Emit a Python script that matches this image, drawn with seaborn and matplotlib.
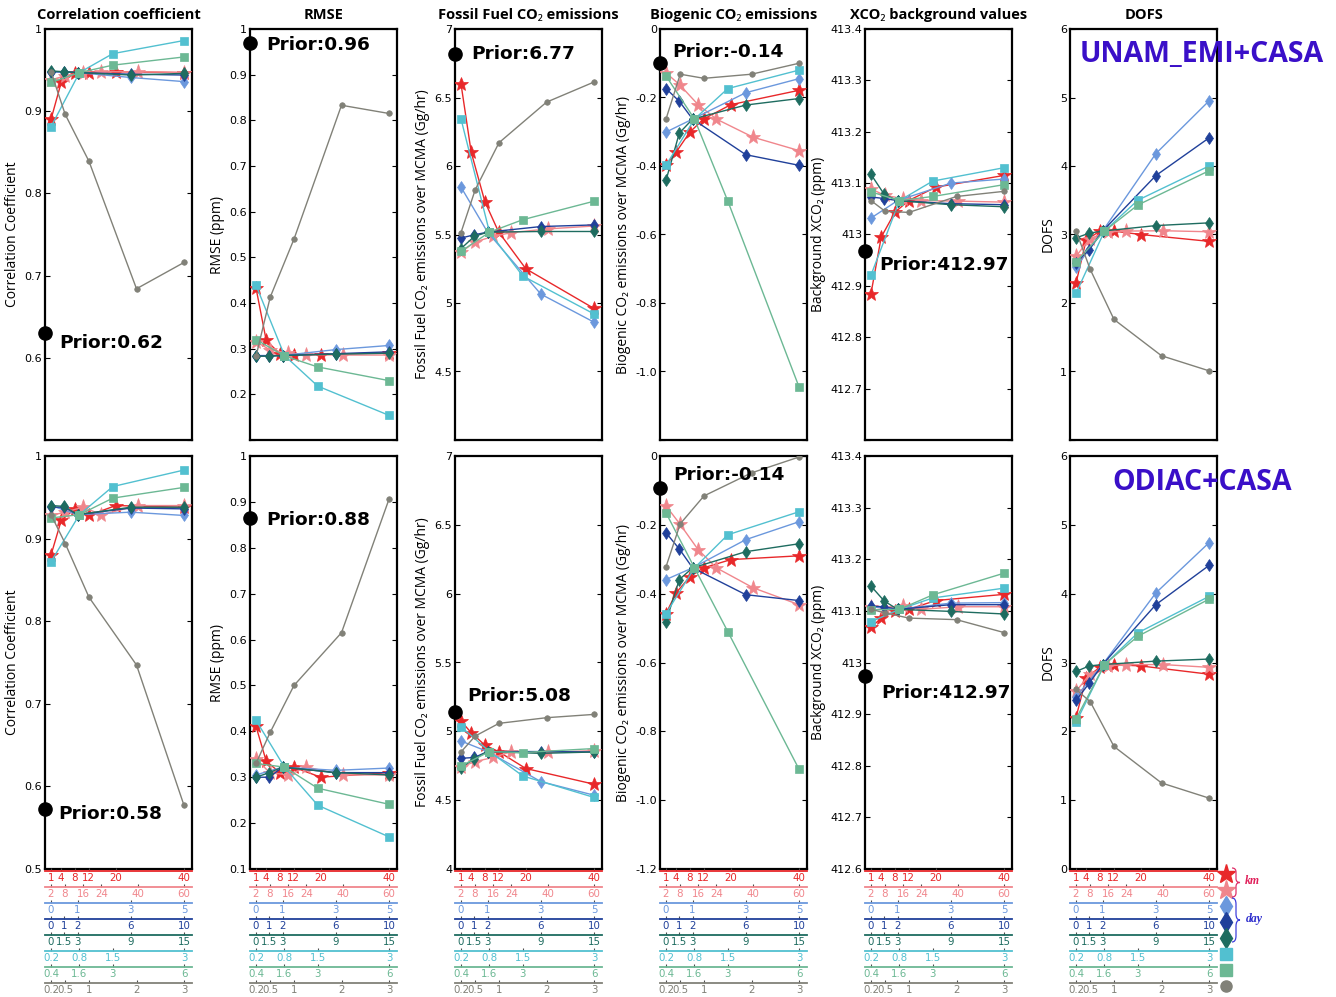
import matplotlib
matplotlib.use("Agg")
import matplotlib.pyplot as plt
import matplotlib.transforms as mtrans
from matplotlib.path import Path
from matplotlib.patches import PathPatch
import numpy as np
import pandas as pd
import seaborn as sns

sns.set_theme(style="white")
plt.rcParams["font.family"] = ["DejaVu Sans"]
for k in ["text.color", "axes.labelcolor", "xtick.color", "ytick.color"]:
    plt.rcParams[k] = "black"

# ---------------- data ----------------
series_names = ["red", "pink", "lightblue", "darkblue", "darkteal", "cyan", "green", "gray"]
series_colors = ["#e8282a", "#f0868c", "#6b98dd", "#20409a", "#1e6c60", "#52c0d0", "#6cb894", "#818178"]
series_markers = ["*", "*", "d", "d", "d", "s", "s", "o"]
series_msize = [10.5, 11, 6, 6, 6, 5.5, 5.5, 4]

x_red = [1, 4, 8, 12, 20, 40]
x_pink = [2, 8, 16, 24, 40, 60]
x_lightblue = [0, 1, 3, 5]
x_darkblue = [0, 1, 2, 6, 10]
x_darkteal = [0, 1.5, 3, 9, 15]
x_cyan = [0.2, 0.8, 1.5, 3]
x_green = [0.4, 1.6, 3, 6]
x_gray = [0.2, 0.5, 1, 2, 3]

lbl_red = ["1", "4", "8", "12", "20", "40"]
lbl_pink = ["2", "8", "16", "24", "40", "60"]
lbl_lightblue = ["0", "1", "3", "5"]
lbl_darkblue = ["0", "1", "2", "6", "10"]
lbl_darkteal = ["0", "1.5", "3", "9", "15"]
lbl_cyan = ["0.2", "0.8", "1.5", "3"]
lbl_green = ["0.4", "1.6", "3", "6"]
lbl_gray = ["0.2", "0.5", "1", "2", "3"]

series_x = [x_red, x_pink, x_lightblue, x_darkblue, x_darkteal, x_cyan, x_green, x_gray]
series_lbl = [lbl_red, lbl_pink, lbl_lightblue, lbl_darkblue, lbl_darkteal, lbl_cyan, lbl_green, lbl_gray]

# rows: UNAM_EMI+CASA (top), ODIAC+CASA (bottom); order of series as series_names
corr_unam = [
    [0.890, 0.935, 0.946, 0.947, 0.948, 0.947],
    [0.938, 0.943, 0.947, 0.948, 0.948, 0.947],
    [0.948, 0.947, 0.941, 0.936],
    [0.948, 0.948, 0.947, 0.945, 0.944],
    [0.949, 0.948, 0.947, 0.944, 0.946],
    [0.881, 0.947, 0.970, 0.986],
    [0.935, 0.947, 0.956, 0.966],
    [0.948, 0.896, 0.839, 0.684, 0.716],
]
rmse_unam = [
    [0.433, 0.318, 0.289, 0.287, 0.287, 0.291],
    [0.315, 0.298, 0.290, 0.287, 0.286, 0.286],
    [0.285, 0.285, 0.298, 0.307],
    [0.284, 0.284, 0.285, 0.289, 0.293],
    [0.283, 0.284, 0.285, 0.288, 0.290],
    [0.439, 0.285, 0.218, 0.154],
    [0.320, 0.284, 0.260, 0.230],
    [0.283, 0.413, 0.540, 0.833, 0.815],
]
ff_unam = [
    [6.60, 6.10, 5.74, 5.52, 5.25, 4.96],
    [5.37, 5.445, 5.486, 5.514, 5.541, 5.562],
    [5.846, 5.517, 5.065, 4.86],
    [5.474, 5.498, 5.517, 5.558, 5.570],
    [5.397, 5.486, 5.517, 5.522, 5.522],
    [6.344, 5.517, 5.197, 4.92],
    [5.377, 5.517, 5.608, 5.743],
    [5.514, 5.827, 6.170, 6.466, 6.613],
]
bio_unam = [
    [-0.398, -0.359, -0.301, -0.263, -0.221, -0.179],
    [-0.128, -0.163, -0.221, -0.263, -0.316, -0.355],
    [-0.301, -0.263, -0.186, -0.145],
    [-0.174, -0.211, -0.263, -0.367, -0.398],
    [-0.442, -0.304, -0.263, -0.222, -0.203],
    [-0.398, -0.263, -0.174, -0.120],
    [-0.137, -0.263, -0.502, -1.045],
    [-0.263, -0.132, -0.144, -0.132, -0.100],
]
xco2_unam = [
    [412.885, 412.995, 413.043, 413.066, 413.092, 413.115],
    [413.089, 413.076, 413.070, 413.066, 413.065, 413.063],
    [413.032, 413.066, 413.100, 413.108],
    [413.073, 413.070, 413.066, 413.060, 413.058],
    [413.117, 413.078, 413.066, 413.058, 413.054],
    [412.921, 413.066, 413.104, 413.130],
    [413.083, 413.066, 413.074, 413.097],
    [413.066, 413.045, 413.043, 413.074, 413.084],
]
dofs_unam = [
    [2.29, 2.92, 3.05, 3.05, 3.00, 2.90],
    [2.68, 2.94, 3.04, 3.05, 3.055, 3.04],
    [2.52, 3.05, 4.18, 4.95],
    [2.59, 2.78, 3.05, 3.86, 4.41],
    [2.95, 3.02, 3.05, 3.13, 3.17],
    [2.14, 3.05, 3.50, 4.00],
    [2.60, 3.05, 3.43, 3.93],
    [3.055, 2.49, 1.76, 1.23, 1.01],
]
corr_odiac = [
    [0.880, 0.922, 0.936, 0.928, 0.940, 0.938],
    [0.928, 0.932, 0.938, 0.929, 0.940, 0.940],
    [0.940, 0.929, 0.932, 0.928],
    [0.938, 0.938, 0.929, 0.937, 0.936],
    [0.940, 0.939, 0.929, 0.938, 0.938],
    [0.872, 0.929, 0.963, 0.983],
    [0.925, 0.929, 0.949, 0.962],
    [0.929, 0.894, 0.829, 0.747, 0.577],
]
rmse_odiac = [
    [0.411, 0.335, 0.310, 0.322, 0.300, 0.310],
    [0.340, 0.310, 0.305, 0.322, 0.305, 0.305],
    [0.305, 0.322, 0.315, 0.320],
    [0.300, 0.300, 0.322, 0.310, 0.310],
    [0.300, 0.310, 0.322, 0.310, 0.305],
    [0.424, 0.322, 0.239, 0.170],
    [0.330, 0.322, 0.276, 0.241],
    [0.330, 0.398, 0.500, 0.615, 0.906],
]
ff_odiac = [
    [5.075, 4.990, 4.900, 4.853, 4.730, 4.616],
    [4.740, 4.780, 4.810, 4.853, 4.847, 4.860],
    [4.930, 4.853, 4.635, 4.536],
    [4.804, 4.810, 4.853, 4.853, 4.850],
    [4.737, 4.800, 4.853, 4.840, 4.850],
    [5.034, 4.853, 4.676, 4.520],
    [4.749, 4.853, 4.846, 4.875],
    [4.850, 4.966, 5.058, 5.099, 5.123],
]
bio_odiac = [
    [-0.458, -0.397, -0.351, -0.325, -0.301, -0.290],
    [-0.145, -0.197, -0.272, -0.325, -0.383, -0.432],
    [-0.359, -0.325, -0.243, -0.191],
    [-0.223, -0.270, -0.325, -0.403, -0.420],
    [-0.481, -0.359, -0.325, -0.278, -0.255],
    [-0.458, -0.325, -0.229, -0.162],
    [-0.165, -0.325, -0.510, -0.910],
    [-0.322, -0.197, -0.116, -0.049, -0.003],
]
xco2_odiac = [
    [413.068, 413.086, 413.099, 413.103, 413.120, 413.132],
    [413.108, 413.105, 413.110, 413.103, 413.108, 413.108],
    [413.108, 413.103, 413.115, 413.116],
    [413.109, 413.108, 413.103, 413.112, 413.112],
    [413.148, 413.119, 413.103, 413.099, 413.094],
    [413.079, 413.103, 413.125, 413.144],
    [413.102, 413.103, 413.131, 413.173],
    [413.103, 413.096, 413.086, 413.083, 413.058],
]
dofs_odiac = [
    [2.20, 2.78, 2.93, 2.97, 2.95, 2.83],
    [2.58, 2.83, 2.95, 2.97, 2.97, 2.93],
    [2.50, 2.97, 4.01, 4.74],
    [2.45, 2.70, 2.97, 3.84, 4.41],
    [2.87, 2.95, 2.97, 3.02, 3.05],
    [2.13, 2.97, 3.43, 3.96],
    [2.18, 2.97, 3.38, 3.92],
    [2.61, 2.43, 1.78, 1.25, 1.03],
]

prior_unam_y = [0.63, 0.97, 6.82, -0.10, 412.967]
prior_unam_txt = ["0.62", "0.96", "6.77", "-0.14", "412.97"]
prior_odiac_y = [0.573, 0.865, 5.138, -0.093, 412.973]
prior_odiac_txt = ["0.58", "0.88", "5.08", "-0.14", "412.97"]

row_names = ["UNAM_EMI+CASA", "ODIAC+CASA"]

titles = ["Correlation coefficient", "RMSE", "Fossil Fuel CO\u2082 emissions",
          "Biogenic CO\u2082 emissions", "XCO\u2082 background values", "DOFS"]
ylabels = ["Correlation Coefficient", "RMSE (ppm)",
           "Fossil Fuel CO\u2082 emissions over MCMA (Gg/hr)",
           "Biogenic CO\u2082 emissions over MCMA (Gg/hr)",
           "Background XCO\u2082 (ppm)", "DOFS"]
yticks = [
    [0.5, 0.6, 0.7, 0.8, 0.9, 1.0],
    [0.1, 0.2, 0.3, 0.4, 0.5, 0.6, 0.7, 0.8, 0.9, 1.0],
    [4, 4.5, 5, 5.5, 6, 6.5, 7],
    [-1.2, -1.0, -0.8, -0.6, -0.4, -0.2, 0],
    [412.6, 412.7, 412.8, 412.9, 413.0, 413.1, 413.2, 413.3, 413.4],
    [0, 1, 2, 3, 4, 5, 6],
]
yticklabels = [
    ["0.5", "0.6", "0.7", "0.8", "0.9", "1"],
    ["0.1", "0.2", "0.3", "0.4", "0.5", "0.6", "0.7", "0.8", "0.9", "1"],
    ["4", "4.5", "5", "5.5", "6", "6.5", "7"],
    ["-1.2", "-1.0", "-0.8", "-0.6", "-0.4", "-0.2", "0"],
    ["412.6", "412.7", "412.8", "412.9", "413", "413.1", "413.2", "413.3", "413.4"],
    ["0", "1", "2", "3", "4", "5", "6"],
]

data_rows = [
    [corr_unam, rmse_unam, ff_unam, bio_unam, xco2_unam, dofs_unam],
    [corr_odiac, rmse_odiac, ff_odiac, bio_odiac, xco2_odiac, dofs_odiac],
]
prior_rows_y = [prior_unam_y, prior_odiac_y]
prior_rows_txt = [prior_unam_txt, prior_odiac_txt]

# ---------------- layout ----------------
W, H = 1336, 997
fig = plt.figure(figsize=(W / 100, H / 100), dpi=100)
fig.patch.set_facecolor("white")

col_left_px = [45 + 205 * i for i in range(6)]
panel_w = 147
row_top_px = [29, 456]
row_bot_px = [440, 869]

# prior text placement (axes fraction)
prior_txt_pos = [
    [(0.10, 0.235), (0.11, 0.96), (0.11, 0.94), (0.085, 0.945), (0.095, 0.425)],
    [(0.09, 0.133), (0.11, 0.845), (0.085, 0.42), (0.09, 0.955), (0.11, 0.427)],
]

XPAD_L, XPAD_R = 0.045, 0.06
line_step_pt = 16 * 0.72
sans = ["Open Sans", "Noto Sans", "DejaVu Sans"]

for r in range(2):
    for c in range(6):
        left = col_left_px[c] / W
        bottom = 1 - row_bot_px[r] / H
        height = (row_bot_px[r] - row_top_px[r]) / H
        ax = fig.add_axes([left, bottom, panel_w / W, height])
        ax.set_facecolor("white")
        twins = []
        for i in range(8):
            tw = ax.twiny()
            xs = series_x[i]
            ys = data_rows[r][c][i]
            df = pd.DataFrame({"x": xs, "y": ys})
            sns.lineplot(data=df, x="x", y="y", ax=tw, color=series_colors[i],
                         marker=series_markers[i], markersize=series_msize[i],
                         markeredgecolor=series_colors[i], markeredgewidth=0.5,
                         linewidth=1.0, errorbar=None)
            lo, hi = min(xs), max(xs)
            span = hi - lo
            tw.set_xlim(lo - XPAD_L * span, hi + XPAD_R * span)
            tw.set_xlabel("")
            tw.set_ylabel("")
            if r == 1:
                tw.xaxis.set_ticks_position("bottom")
                tw.xaxis.set_label_position("bottom")
                for s in ["top", "left", "right"]:
                    tw.spines[s].set_visible(False)
                tw.spines["bottom"].set_visible(True)
                tw.spines["bottom"].set_position(("outward", 1.5 + line_step_pt * i))
                tw.spines["bottom"].set_color(series_colors[i])
                tw.spines["bottom"].set_linewidth(1.3)
                tw.set_xticks(xs)
                tw.set_xticklabels(series_lbl[i])
                tw.tick_params(axis="x", which="both", direction="in", length=2.5,
                               width=0.8, color="0.3", labelcolor=series_colors[i],
                               labelsize=7.4, pad=1.5, top=False, bottom=True,
                               labeltop=False, labelbottom=True)
            else:
                tw.axis("off")
            twins.append(tw)

        ax.set_ylim(yticks[c][0], yticks[c][-1])
        ax.set_yticks(yticks[c])
        labs = list(yticklabels[c])
        if r == 0:
            labs[0] = ""
        ax.set_yticklabels(labs)
        ax.tick_params(axis="y", direction="in", left=True, right=True, length=3.5,
                       width=0.8, labelsize=8, pad=2, colors="black")
        ax.tick_params(axis="x", bottom=False, top=False, labelbottom=False, labeltop=False)
        for s in ax.spines.values():
            s.set_visible(True)
            s.set_color("black")
            s.set_linewidth(1.6)
        ax.set_ylabel(ylabels[c], fontsize=10, family=sans, labelpad=3)
        if r == 0:
            ax.set_title(titles[c], fontsize=10.5, fontweight="bold", family=sans,
                         y=1.0, pad=7)

        top_tw = twins[-1]
        if c < 5:
            top_tw.plot([0], [prior_rows_y[r][c]], "o", color="black", markersize=9.5,
                        transform=top_tw.get_yaxis_transform(), clip_on=False, zorder=20)
            tx, ty = prior_txt_pos[r][c]
            top_tw.text(tx, ty, "Prior:" + prior_rows_txt[r][c], transform=top_tw.transAxes,
                        fontsize=13.3, fontweight="bold", ha="left", va="center",
                        color="black", family="DejaVu Sans", zorder=21)
        else:
            top_tw.text(0.898, 0.937, row_names[r], transform=top_tw.transAxes,
                        fontsize=20.5, fontweight="bold", ha="center", va="center",
                        color="#3a0fc8", family=sans, zorder=21)
            if r == 1:
                # legend markers next to each scale line
                big = [14, 14, 10, 10, 10, 8.5, 8.5, 8]
                for i in range(8):
                    off = (1.5 + line_step_pt * i + 2.0) / 72.0
                    trans = top_tw.transAxes + mtrans.ScaledTranslation(0, -off, fig.dpi_scale_trans)
                    top_tw.plot([1.062], [0], marker=series_markers[i], color=series_colors[i],
                                markersize=big[i], markeredgecolor=series_colors[i],
                                transform=trans, clip_on=False, linestyle="none")


def brace(x0, x1, ytop, ybot, color):
    X0, X1 = x0 / W, x1 / W
    Yt, Yb = 1 - ytop / H, 1 - ybot / H
    Xm = (X0 + X1) / 2
    Ym = (Yt + Yb) / 2
    q = (Yt - Yb) * 0.14
    verts = [(X0, Yt), (Xm, Yt), (Xm, Yt - q), (Xm, Ym + q), (Xm, Ym), (X1, Ym),
             (Xm, Ym), (Xm, Ym - q), (Xm, Yb + q), (Xm, Yb), (X0, Yb)]
    codes = [Path.MOVETO, Path.CURVE3, Path.CURVE3, Path.LINETO, Path.CURVE3, Path.CURVE3,
             Path.CURVE3, Path.CURVE3, Path.LINETO, Path.CURVE3, Path.CURVE3]
    fig.add_artist(PathPatch(Path(verts, codes), transform=fig.transFigure, fill=False,
                             edgecolor=color, linewidth=0.9))


brace(1232, 1240, 868, 897, "#e0306a")
brace(1232, 1240, 898, 942, "#4040dd")
fig.text(1252 / W, 1 - 881 / H, "km", fontsize=8.5, fontweight="bold", fontstyle="italic",
         family="Liberation Serif", color="#e0205a", ha="center", va="center")
fig.text(1254 / W, 1 - 919 / H, "day", fontsize=8.5, fontweight="bold", fontstyle="italic",
         family="Liberation Serif", color="#2a2acc", ha="center", va="center")

fig.savefig("out.png", dpi=100, facecolor="white")
